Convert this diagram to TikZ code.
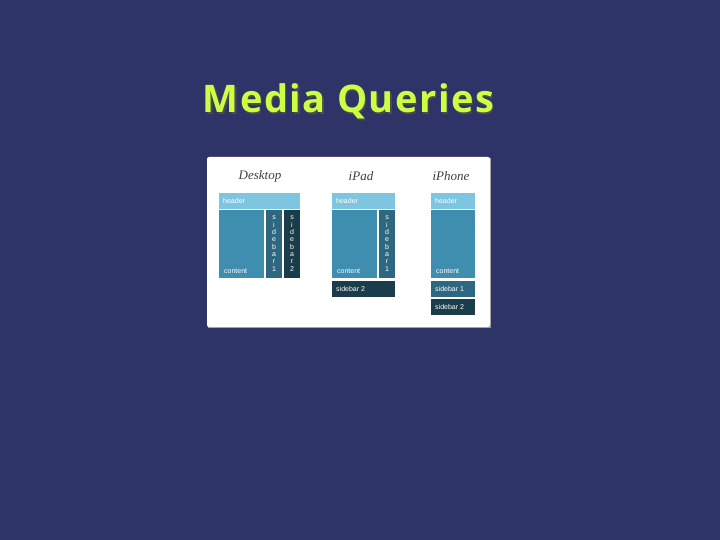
\documentclass[tikz,border=0pt]{standalone}
\usepackage{fontspec}
\setmainfont{Liberation Sans}
\newfontfamily\titlefont[LetterSpace=4]{Open Sans}
\newfontfamily\handfont{Liberation Serif}
\usetikzlibrary{positioning}
\definecolor{slidebg}{HTML}{2F3468}
\definecolor{titlegreen}{HTML}{CCFF44}
\definecolor{hdrblue}{HTML}{7EC6E0}
\definecolor{cntblue}{HTML}{3F8DAF}
\definecolor{sideone}{HTML}{2E6880}
\definecolor{sidetwo}{HTML}{1B3C4A}

\begin{document}
\begin{tikzpicture}[x=1pt,y=-1pt,
    box/.style={anchor=north west,inner sep=0pt,outer sep=0pt},
    boxtext/.style={text=white,inner sep=0pt,font=\fontsize{7}{7.3}\selectfont},
    devlabel/.style={font=\handfont\itshape\fontsize{13}{13}\selectfont,text=black!75}]

    % slide
    \useasboundingbox (0,0) rectangle (720,540);
    \fill[slidebg] (0,0) rectangle (720,540);

    % title with its shadow
    \node (titleshadow) at (350,103) [font=\titlefont\bfseries\fontsize{38}{38}\selectfont,text=black!70] {Media Queries};
    \node (title) at (348.5,101.5) [font=\titlefont\bfseries\fontsize{38}{38}\selectfont,text=titlegreen] {Media Queries};

    % white panel
    \fill[black!40] (208,158) rectangle (491,328);
    \node (panel) at (207,157) [box,fill=white,rounded corners=2pt,minimum width=283pt,minimum height=170pt] {};

    % device labels
    \node (desk) at (260,176) [devlabel] {Desktop};
    \node (ipad) at (361,176) [devlabel] {iPad};
    \node (iphone) at (451,176) [devlabel] {iPhone};

    % Desktop layout
    \node (dhead) at (219,193) [box,fill=hdrblue,minimum width=81pt,minimum height=16pt] {};
    \node (dcont) at (219,210) [box,fill=cntblue,minimum width=45pt,minimum height=68pt] {};
    \node (dsideA) at (266,210) [box,fill=sideone,minimum width=16pt,minimum height=68pt] {};
    \node (dsideB) at (284,210) [box,fill=sidetwo,minimum width=16pt,minimum height=68pt] {};
    \node[boxtext,anchor=west] at ([xshift=4pt]dhead.west) {header};
    \node[boxtext,anchor=south west] at ([xshift=5pt,yshift=4pt]dcont.south west) {content};
    \node[boxtext,anchor=north,align=center] at ([yshift=-6pt]dsideA.north) {s\\i\\d\\e\\b\\a\\r\\1};
    \node[boxtext,anchor=north,align=center] at ([yshift=-6pt]dsideB.north) {s\\i\\d\\e\\b\\a\\r\\2};

    % iPad layout
    \node (phead) at (332,193) [box,fill=hdrblue,minimum width=63pt,minimum height=16pt] {};
    \node (pcont) at (332,210) [box,fill=cntblue,minimum width=45pt,minimum height=68pt] {};
    \node (psideA) at (379,210) [box,fill=sideone,minimum width=16pt,minimum height=68pt] {};
    \node (psideB) at (332,280.5) [box,fill=sidetwo,minimum width=63pt,minimum height=16pt] {};
    \node[boxtext,anchor=west] at ([xshift=4pt]phead.west) {header};
    \node[boxtext,anchor=south west] at ([xshift=5pt,yshift=4pt]pcont.south west) {content};
    \node[boxtext,anchor=north,align=center] at ([yshift=-6pt]psideA.north) {s\\i\\d\\e\\b\\a\\r\\1};
    \node[boxtext,anchor=west] at ([xshift=4pt]psideB.west) {sidebar 2};

    % iPhone layout
    \node (hhead) at (431,193) [box,fill=hdrblue,minimum width=44pt,minimum height=16pt] {};
    \node (hcont) at (431,210) [box,fill=cntblue,minimum width=44pt,minimum height=68pt] {};
    \node (hsideA) at (431,280.5) [box,fill=sideone,minimum width=44pt,minimum height=16pt] {};
    \node (hsideB) at (431,298.5) [box,fill=sidetwo,minimum width=44pt,minimum height=16pt] {};
    \node[boxtext,anchor=west] at ([xshift=4pt]hhead.west) {header};
    \node[boxtext,anchor=south west] at ([xshift=5pt,yshift=4pt]hcont.south west) {content};
    \node[boxtext,anchor=west] at ([xshift=4pt]hsideA.west) {sidebar 1};
    \node[boxtext,anchor=west] at ([xshift=4pt]hsideB.west) {sidebar 2};
\end{tikzpicture}
\end{document}
